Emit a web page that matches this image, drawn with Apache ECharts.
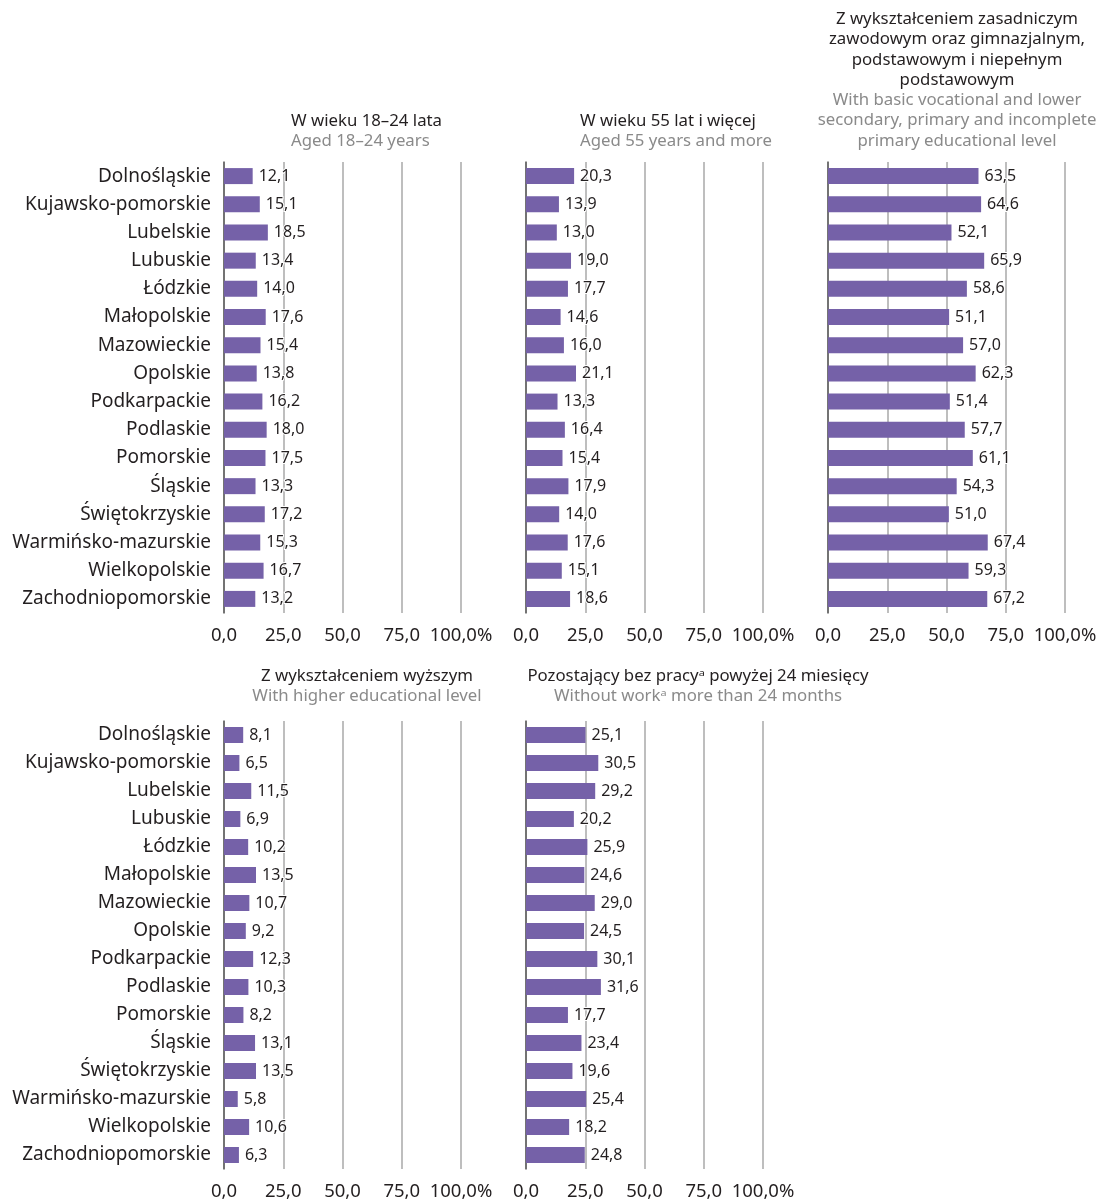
<!DOCTYPE html>
<html><head><meta charset="utf-8">
<script src="https://cdn.jsdelivr.net/npm/echarts@6/dist/echarts.min.js"></script>
<style>html,body{margin:0;padding:0;background:#fff}#c{width:1109px;height:1201px}</style>
</head><body><div id="c"></div>
<script>
const categories = ['Dolnośląskie','Kujawsko-pomorskie','Lubelskie','Lubuskie','Łódzkie','Małopolskie','Mazowieckie','Opolskie','Podkarpackie','Podlaskie','Pomorskie','Śląskie','Świętokrzyskie','Warmińsko-mazurskie','Wielkopolskie','Zachodniopomorskie'];
const aged18to24 = [12.1,15.1,18.5,13.4,14.0,17.6,15.4,13.8,16.2,18.0,17.5,13.3,17.2,15.3,16.7,13.2];
const aged55plus = [20.3,13.9,13.0,19.0,17.7,14.6,16.0,21.1,13.3,16.4,15.4,17.9,14.0,17.6,15.1,18.6];
const basicVocational = [63.5,64.6,52.1,65.9,58.6,51.1,57.0,62.3,51.4,57.7,61.1,54.3,51.0,67.4,59.3,67.2];
const higherEducation = [8.1,6.5,11.5,6.9,10.2,13.5,10.7,9.2,12.3,10.3,8.2,13.1,13.5,5.8,10.6,6.3];
const withoutWork24 = [25.1,30.5,29.2,20.2,25.9,24.6,29.0,24.5,30.1,31.6,17.7,23.4,19.6,25.4,18.2,24.8];
const tickLabels = ['0,0','25,0','50,0','75,0','100,0%'];

const FONT = 'Noto Sans';
const DARK = '#231f20';
const GRAY = '#8a8a8a';
const PURPLE = '#7561a8';

const panels = [
  {data: aged18to24, left: 224, top: 162, height: 451, showCats: true},
  {data: aged55plus, left: 526, top: 162, height: 451, showCats: false},
  {data: basicVocational, left: 828, top: 162, height: 451, showCats: false},
  {data: higherEducation, left: 224, top: 721, height: 452, showCats: true},
  {data: withoutWork24, left: 526, top: 721, height: 452, showCats: false}
];

const grid = [], xAxis = [], yAxis = [], series = [];
panels.forEach((p, i) => {
  grid.push({left: p.left, top: p.top, width: 237, height: p.height, containLabel: false});
  xAxis.push({
    gridIndex: i, type: 'value', min: 0, max: 100, interval: 25,
    axisLine: {show: false}, axisTick: {show: false},
    splitLine: {show: true, lineStyle: {color: '#a8a8a8', width: 1.5}},
    axisLabel: {
      margin: 13, color: DARK, fontFamily: FONT, fontSize: 18.5,
      formatter: (v) => tickLabels[Math.round(v / 25)]
    }
  });
  yAxis.push({
    gridIndex: i, type: 'category', data: categories, inverse: true,
    axisLine: {show: true, lineStyle: {color: '#5a5a5a', width: 1.5}},
    axisTick: {show: false},
    axisLabel: {show: p.showCats, margin: 13, color: DARK, fontFamily: FONT, fontSize: 19}
  });
  series.push({
    type: 'bar', xAxisIndex: i, yAxisIndex: i, data: p.data,
    barWidth: 16, itemStyle: {color: PURPLE},
    label: {
      show: true, position: 'right', distance: 6, color: DARK, fontFamily: FONT, fontSize: 16,
      textBorderColor: '#fff', textBorderWidth: 2,
      formatter: (d) => d.value.toFixed(1).replace('.', ',')
    }
  });
});

function txt(x, y, text, color, align) {
  return {type: 'text', x: x, y: y, silent: true,
    style: {text: text, fill: color, font: '16.8px "' + FONT + '"', align: align, verticalAlign: 'top', lineHeight: 20.3}};
}

const graphic = [
  txt(291, 111, 'W wieku 18–24 lata', DARK, 'left'),
  txt(291, 131, 'Aged 18–24 years', GRAY, 'left'),
  txt(580, 111, 'W wieku 55 lat i więcej', DARK, 'left'),
  txt(580, 131, 'Aged 55 years and more', GRAY, 'left'),
  txt(957, 9, 'Z wykształceniem zasadniczym\nzawodowym oraz gimnazjalnym,\npodstawowym i niepełnym\npodstawowym', DARK, 'center'),
  txt(957, 90, 'With basic vocational and lower\nsecondary, primary and incomplete\nprimary educational level', GRAY, 'center'),
  txt(367, 666, 'Z wykształceniem wyższym', DARK, 'center'),
  txt(367, 686, 'With higher educational level', GRAY, 'center'),
  txt(698, 666, 'Pozostający bez pracyᵃ powyżej 24 miesięcy', DARK, 'center'),
  txt(698, 686, 'Without workᵃ more than 24 months', GRAY, 'center')
];

const chart = echarts.init(document.getElementById('c'), null, {renderer: 'canvas'});
chart.setOption({animation: false, backgroundColor: '#fff', grid, xAxis, yAxis, series, graphic});
</script></body></html>
